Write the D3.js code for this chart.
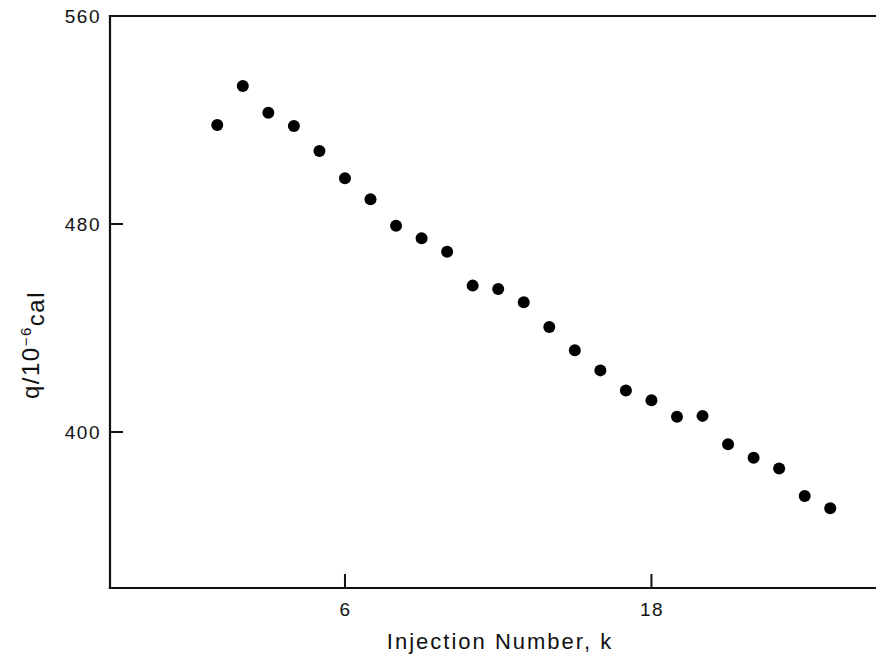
<!DOCTYPE html>
<html>
<head>
<meta charset="utf-8">
<script src="https://cdn.jsdelivr.net/npm/d3@7"></script>
<style>
	body { margin: 0; background: #fff; }
	svg { display: block; }
	svg text { font-family: "Liberation Sans", Arial, Helvetica, sans-serif; }
	.tick text { font-size: 19px; letter-spacing: 1.5px; fill: #111; }
	.inner-tick { stroke: #111; stroke-width: 2px; }
</style>
</head>
<body>
<svg id="chart" width="876" height="660"></svg>
<script>
(function(){
	'use strict';

	// DATA
	var injections = [1, 2, 3, 4, 5, 6, 7, 8, 9, 10, 11, 12, 13,
		14, 15, 16, 17, 18, 19, 20, 21, 22, 23, 24, 25];
	var heats = [518.1, 533.1, 522.8, 517.7, 508.1, 497.6, 489.5, 479.3, 474.5,
		469.3, 456.3, 455.0, 449.9, 440.4, 431.4, 423.7, 416.0, 412.2, 405.9,
		406.2, 395.3, 390.1, 386.0, 375.4, 370.7];
	var xTicks = [6, 18];
	var yTicks = [400, 480, 560];

	var svg = d3.select('#chart');
	var margin = { top: 16, left: 110, bot: 72 };
	var height = 660 - margin.top - margin.bot;

	var xScale = d3.scaleLinear().domain([-3.2, 27]).range([0, 30.2 * 25.54]);
	var yScale = d3.scaleLinear().domain([340, 560]).range([height, 0]);

	var g = svg.append('g')
		.attr('transform', 'translate(' + margin.left + ',' + margin.top + ')');

	// AXES (labels only; tick marks are drawn inward below)
	var yAxis = d3.axisLeft(yScale)
		.tickValues(yTicks)
		.tickSize(0)
		.tickPadding(9)
		.tickFormat(d3.format('d'));
	var xAxis = d3.axisBottom(xScale)
		.tickValues(xTicks)
		.tickSize(0)
		.tickPadding(15)
		.tickFormat(d3.format('d'));

	var yG = g.append('g').attr('class', 'y axis').call(yAxis);
	yG.attr('font-family', null).attr('font-size', null);
	yG.select('.domain').remove();
	yG.selectAll('.tick line').remove();

	var xG = g.append('g').attr('class', 'x axis')
		.attr('transform', 'translate(0,' + height + ')')
		.call(xAxis);
	xG.attr('font-family', null).attr('font-size', null);
	xG.select('.domain').remove();
	xG.selectAll('.tick line').remove();

	g.selectAll('line.ytick').data(yTicks.filter(function(d){ return d < 560; }))
		.enter().append('line')
		.attr('class', 'inner-tick ytick')
		.attr('x1', 0).attr('x2', 13)
		.attr('y1', function(d){ return yScale(d); })
		.attr('y2', function(d){ return yScale(d); });
	g.selectAll('line.xtick').data(xTicks)
		.enter().append('line')
		.attr('class', 'inner-tick xtick')
		.attr('y1', height).attr('y2', height - 14)
		.attr('x1', function(d){ return xScale(d); })
		.attr('x2', function(d){ return xScale(d); });

	// FRAME: left, top, bottom (right side runs off the page)
	var right = 876 - margin.left;
	var frame = [
		[[0, 0], [0, height]],
		[[0, 0], [right, 0]],
		[[0, height], [right, height]]
	];
	g.selectAll('line.frame').data(frame).enter().append('line')
		.attr('class', 'frame')
		.attr('x1', function(d){ return d[0][0]; })
		.attr('y1', function(d){ return d[0][1]; })
		.attr('x2', function(d){ return d[1][0]; })
		.attr('y2', function(d){ return d[1][1]; })
		.attr('stroke', '#111')
		.attr('stroke-width', 2.2)
		.attr('stroke-linecap', 'square');

	// POINTS
	var points = injections.map(function(k, i){ return { k: k, q: heats[i] }; });
	g.selectAll('circle.pt').data(points).enter().append('circle')
		.attr('class', 'pt')
		.attr('cx', function(d){ return xScale(d.k); })
		.attr('cy', function(d){ return yScale(d.q); })
		.attr('r', 6)
		.attr('fill', '#000');

	// AXIS TITLES
	svg.append('text')
		.attr('x', 500)
		.attr('y', 649)
		.attr('text-anchor', 'middle')
		.style('font-size', '22px')
		.style('letter-spacing', '2px')
		.style('fill', '#111')
		.text('Injection Number, k');

	var yTitle = svg.append('text')
		.attr('transform', 'translate(39,345) rotate(-90)')
		.attr('text-anchor', 'middle')
		.style('font-size', '24px')
		.style('letter-spacing', '1.5px')
		.style('fill', '#111');
	yTitle.append('tspan').text('q/10');
	yTitle.append('tspan').attr('dy', '-0.55em').style('font-size', '15px').text('\u2212');
	yTitle.append('tspan').style('font-size', '15px').text('6');
	yTitle.append('tspan').attr('dy', '0.55em').text('cal');
})();
</script>
</body>
</html>
